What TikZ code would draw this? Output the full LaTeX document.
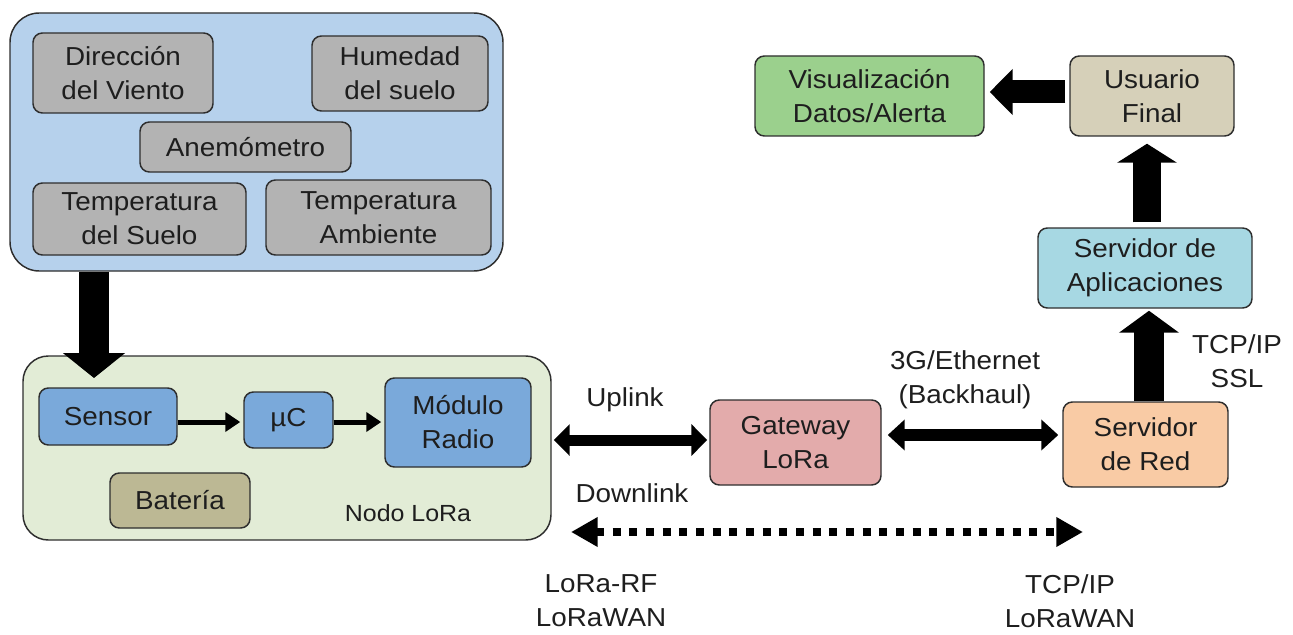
\documentclass[tikz,border=0pt]{standalone}
\usepackage{fontspec}
\setmainfont[FakeStretch=1.07]{Liberation Sans}
\usetikzlibrary{arrows.meta,calc}
\definecolor{outerblue}{HTML}{B6D1EC}
\definecolor{sgray}{HTML}{B3B3B3}
\definecolor{nodegreen}{HTML}{E2ECD6}
\definecolor{mblue}{HTML}{7AA9DA}
\definecolor{khaki}{HTML}{BCB894}
\definecolor{gwred}{HTML}{E3ABAB}
\definecolor{srvorange}{HTML}{F9CBA5}
\definecolor{appcyan}{HTML}{A7D8E3}
\definecolor{usrbeige}{HTML}{D6D0B9}
\definecolor{visgreen}{HTML}{9BD08D}
\definecolor{edge}{HTML}{2E2E2E}
\definecolor{txt}{HTML}{1E1E1E}
\begin{document}
\begin{tikzpicture}[x=0.75pt,y=-0.75pt,
  sz/.style 2 args={minimum width=#1*0.75pt,minimum height=#2*0.75pt},
  box/.style={draw=edge,line width=1.1pt,rounded corners=7pt,align=center,
    text=txt,inner sep=0pt,font=\fontsize{19.5}{25.5}\selectfont},
  lbl/.style={align=center,text=txt,inner sep=0pt,font=\fontsize{19.5}{25.5}\selectfont},
  fat/.style n args={3}{draw=black,line width=#1,
    -{Triangle[width=#2,length=#3]}},
  dbl/.style n args={3}{draw=black,line width=#1,
    {Triangle[width=#2,length=#3]}-{Triangle[width=#2,length=#3]}}
]
\useasboundingbox (0,0) rectangle (1293,635);

% sensor group
\node[box,sz={493}{258},fill=outerblue,rounded corners=22pt] (sensors) at (256.5,142) {};
\node[box,sz={180}{80},fill=sgray] (dir) at (123,73) {Dirección\\del Viento};
\node[box,sz={176}{75},fill=sgray] (hum) at (400,73.5) {Humedad\\del suelo};
\node[box,sz={211}{50},fill=sgray] (anem) at (245.5,147) {Anemómetro};
\node[box,sz={213}{72},fill=sgray] (tsuelo) at (139.5,219) {Temperatura\\del Suelo};
\node[box,sz={225}{75},fill=sgray] (tamb) at (378.5,217.5) {Temperatura\\Ambiente};

% LoRa node
\node[box,sz={528}{184},fill=nodegreen,rounded corners=19pt] (nodo) at (287,448) {};
\node[box,sz={138}{57},fill=mblue] (sensor) at (108,416.5) {Sensor};
\node[box,sz={89}{56},fill=mblue] (uc) at (288.5,420) {µC};
\node[box,sz={146}{89},fill=mblue] (modulo) at (458,422.5) {Módulo\\Radio};
\node[box,sz={140}{55},fill=khaki] (bateria) at (180,500.5) {Batería};
\node[lbl,font=\fontsize{17.5}{21}\selectfont] (nodolbl) at (408,513) {Nodo LoRa};

% network
\node[box,sz={171}{85},fill=gwred] (gateway) at (795.5,442.5) {Gateway\\LoRa};
\node[box,sz={165}{85},fill=srvorange] (red) at (1145.5,444.5) {Servidor\\de Red};
\node[box,sz={214}{80},fill=appcyan] (apps) at (1145,268) {Servidor de\\Aplicaciones};
\node[box,sz={164}{80},fill=usrbeige] (usuario) at (1152,96) {Usuario\\Final};
\node[box,sz={229}{80},fill=visgreen] (visual) at (869.5,96) {Visualización\\Datos/Alerta};

% labels
\node[lbl] (uplink) at (625,400) {Uplink};
\node[lbl] (downlink) at (632,493) {Downlink};
\node[lbl] (backhaul) at (965,380) {3G/Ethernet\\(Backhaul)};
\node[lbl] (tcpssl) at (1237,361) {TCP/IP\\SSL};
\node[lbl] (lorarf) at (601,601) {LoRa-RF\\LoRaWAN};
\node[lbl] (tcplw) at (1070,601) {TCP/IP\\LoRaWAN};

% arrows
\coordinate (dtip) at (94,378);
\draw[fat={22.5pt}{45.75pt}{18.75pt}] (sensors.south -| dtip) -- (dtip);
\draw[fat={3.75pt}{14.25pt}{11.25pt}] ($(sensor.east |- uc.west)+(0,2)$) -- ($(uc.west)+(-3,2)$);
\draw[fat={3.75pt}{14.25pt}{11.25pt}] ($(uc.east)+(0,2)$) -- ($(uc.east -| modulo.west)+(-3,2)$);
\draw[dbl={8.25pt}{23.25pt}{12pt}] ($(nodo.east |- gateway.west)+(2,-2.5)$) -- ($(gateway.west)+(-2,-2.5)$);
\draw[dbl={9pt}{22.5pt}{12.75pt}] ($(gateway.east)+(6,-7.5)$) -- ($(red.west |- gateway.east)+(-4,-7.5)$);
\draw[fat={22.5pt}{44.25pt}{16.5pt}] ($(red.north)+(3.5,0)$) -- ($(red.north |- apps.south)+(3.5,2)$);
\draw[fat={21pt}{44.25pt}{14.25pt}] ($(apps.north)+(2,-5)$) -- ($(apps.north |- usuario.south)+(2,7)$);
\draw[fat={17.25pt}{33.75pt}{17.25pt}] ($(usuario.west)+(-4,-4)$) -- ($(visual.east |- usuario.west)+(5,-4)$);
\coordinate (dl) at (571,532);
\coordinate (dr) at (1083,532);
\draw[dbl={6pt}{21pt}{20pt},dash pattern=on 6pt off 6.5pt] (dl) -- (dr);
\end{tikzpicture}
\end{document}
